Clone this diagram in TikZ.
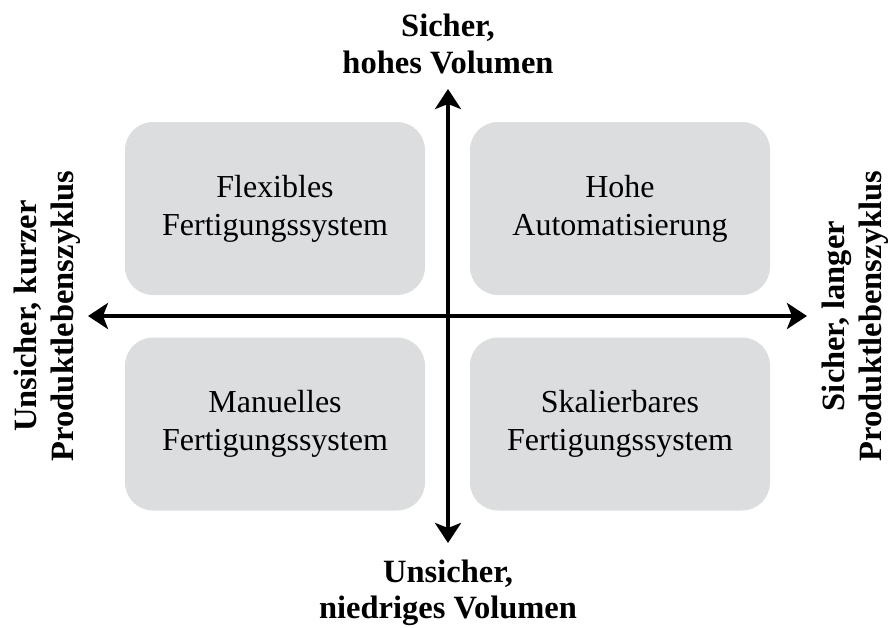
\documentclass[tikz,border=0pt]{standalone}
\usepackage{fontspec}
\setmainfont{Liberation Serif}
\usetikzlibrary{arrows.meta}
\definecolor{boxgray}{RGB}{220,221,223}
\begin{document}
\begin{tikzpicture}[x=1pt,y=-1pt,
  quad/.style={fill=boxgray,draw=none,rounded corners=28pt,minimum width=300pt,minimum height=173pt,
    align=center,inner sep=0pt,font=\fontsize{32}{38}\selectfont},
  axlabel/.style={align=center,inner sep=0pt,font=\fontsize{32.5}{36.5}\selectfont\bfseries},
  axis/.style={line width=4.5pt,-{Stealth[length=20pt,width=26pt,inset=5pt]}}]
\useasboundingbox (0,0) rectangle (889,627);
\node[quad] (fl) at (275,208.5) {Flexibles\\Fertigungssystem};
\node[quad] (ha) at (620,208.5) {Hohe\\Automatisierung};
\node[quad] (ma) at (275,424) {Manuelles\\Fertigungssystem};
\node[quad] (sk) at (620,424) {Skalierbares\\Fertigungssystem};
\coordinate (c) at (448,316);
\coordinate (top) at (448,89);
\coordinate (bot) at (448,543);
\coordinate (lft) at (88,316);
\coordinate (rgt) at (807,316);
\draw[axis] (c) -- (top);
\draw[axis] (c) -- (bot);
\draw[axis] (c) -- (lft);
\draw[axis] (c) -- (rgt);
\node[axlabel] (tl) at (448,44) {Sicher,\\hohes Volumen};
\node[axlabel] (bl) at (448,593) {Unsicher,\\niedriges Volumen};
\node[axlabel,rotate=90] (ll) at (47,316) {Unsicher, kurzer\\Produktlebenszyklus};
\node[axlabel,rotate=90] (rl) at (855,316) {Sicher, langer\\Produktlebenszyklus};
\end{tikzpicture}
\end{document}
